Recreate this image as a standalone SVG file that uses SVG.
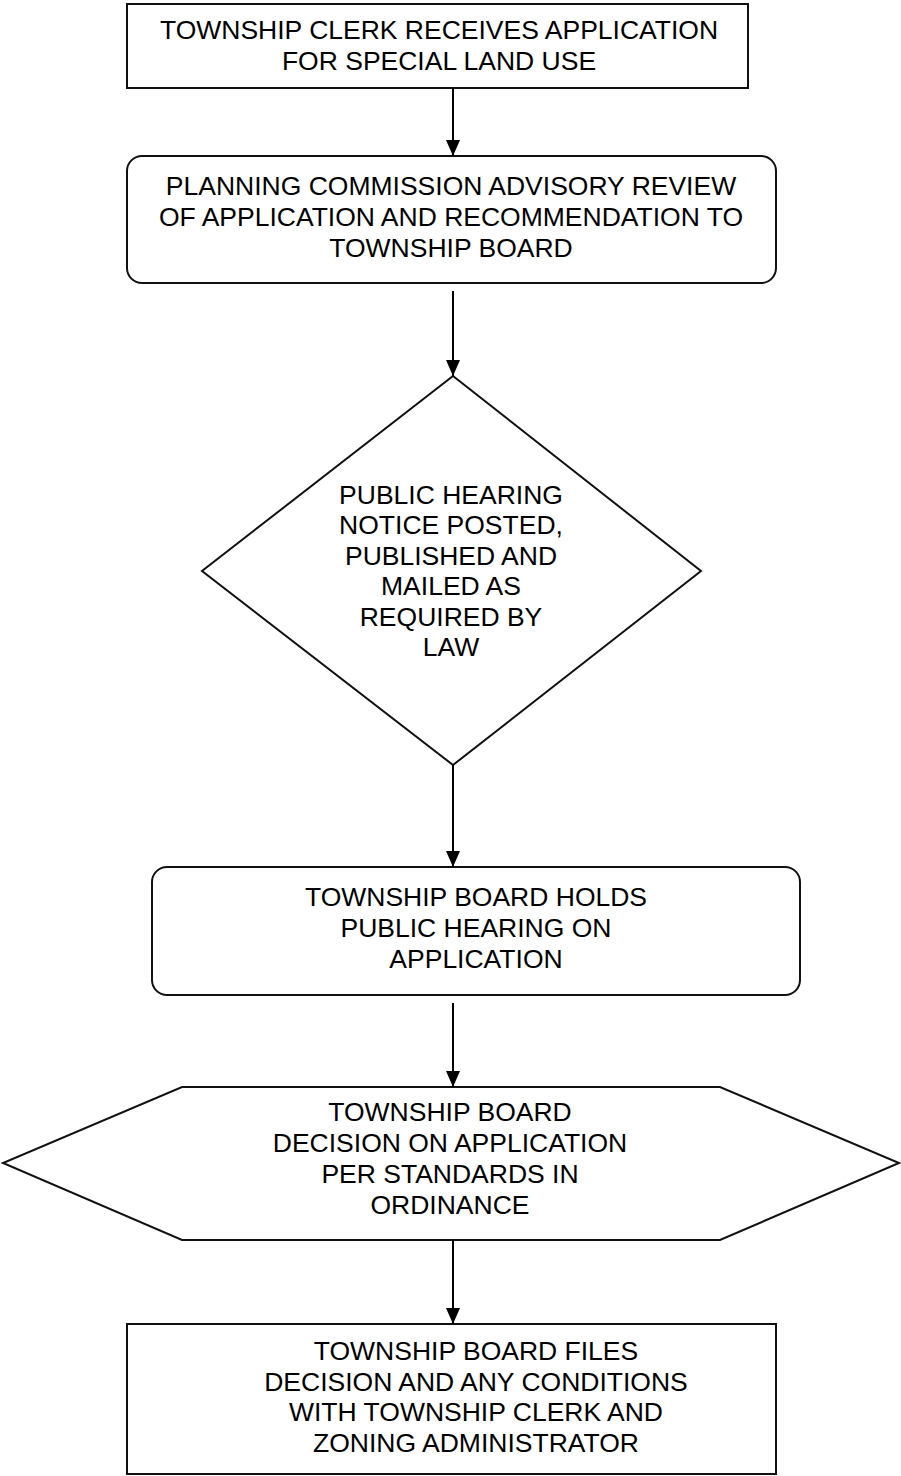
<svg xmlns="http://www.w3.org/2000/svg" width="901" height="1476" viewBox="0 0 901 1476">
<defs>
<marker id="ah" markerUnits="userSpaceOnUse" markerWidth="16" markerHeight="14" viewBox="0 0 16 14" refX="16" refY="7" orient="auto">
<path d="M0,0 L16,7 L0,14 Z" fill="#000"/>
</marker>
<style>
.shape{fill:#fff;stroke:#111;stroke-width:2}
.t{font-family:"Liberation Sans",Arial,sans-serif;font-size:26.5px;fill:#000;text-anchor:middle}
.c{stroke:#000;stroke-width:2;fill:none}
</style>
</defs>
<rect width="901" height="1476" fill="#fff"/>
<g id="n1">
<rect class="shape" x="127" y="4" width="621" height="84"/>
<text class="t" x="439" y="39">TOWNSHIP CLERK RECEIVES APPLICATION</text>
<text class="t" x="439" y="70">FOR SPECIAL LAND USE</text>
</g>
<g id="n2">
<rect class="shape" x="127" y="156" width="649" height="127" rx="15" ry="15"/>
<text class="t" x="451" y="195">PLANNING COMMISSION ADVISORY REVIEW</text>
<text class="t" x="451" y="226">OF APPLICATION AND RECOMMENDATION TO</text>
<text class="t" x="451" y="257">TOWNSHIP BOARD</text>
</g>
<g id="n3">
<polygon class="shape" points="453,376 701,571 453,765 202,571"/>
<text class="t" x="451" y="504">PUBLIC HEARING</text>
<text class="t" x="451" y="534">NOTICE POSTED,</text>
<text class="t" x="451" y="565">PUBLISHED AND</text>
<text class="t" x="451" y="595">MAILED AS</text>
<text class="t" x="451" y="626">REQUIRED BY</text>
<text class="t" x="451" y="656">LAW</text>
</g>
<g id="n4">
<rect class="shape" x="152" y="867" width="648" height="128" rx="15" ry="15"/>
<text class="t" x="476" y="906">TOWNSHIP BOARD HOLDS</text>
<text class="t" x="476" y="937">PUBLIC HEARING ON</text>
<text class="t" x="476" y="968">APPLICATION</text>
</g>
<g id="n5">
<polygon class="shape" points="182,1087 720,1087 899,1163 720,1240 182,1240 3,1163"/>
<text class="t" x="450" y="1121">TOWNSHIP BOARD</text>
<text class="t" x="450" y="1152">DECISION ON APPLICATION</text>
<text class="t" x="450" y="1183">PER STANDARDS IN</text>
<text class="t" x="450" y="1214">ORDINANCE</text>
</g>
<g id="n6">
<rect class="shape" x="127" y="1324" width="649" height="150"/>
<text class="t" x="476" y="1360">TOWNSHIP BOARD FILES</text>
<text class="t" x="476" y="1391">DECISION AND ANY CONDITIONS</text>
<text class="t" x="476" y="1421">WITH TOWNSHIP CLERK AND</text>
<text class="t" x="476" y="1452">ZONING ADMINISTRATOR</text>
</g>
<g id="connectors">
<line class="c" x1="453" y1="88" x2="453" y2="156" marker-end="url(#ah)"/>
<line class="c" x1="453" y1="291" x2="453" y2="376" marker-end="url(#ah)"/>
<line class="c" x1="453" y1="765" x2="453" y2="867" marker-end="url(#ah)"/>
<line class="c" x1="453" y1="1003" x2="453" y2="1087" marker-end="url(#ah)"/>
<line class="c" x1="453" y1="1240" x2="453" y2="1324" marker-end="url(#ah)"/>
</g>
</svg>
